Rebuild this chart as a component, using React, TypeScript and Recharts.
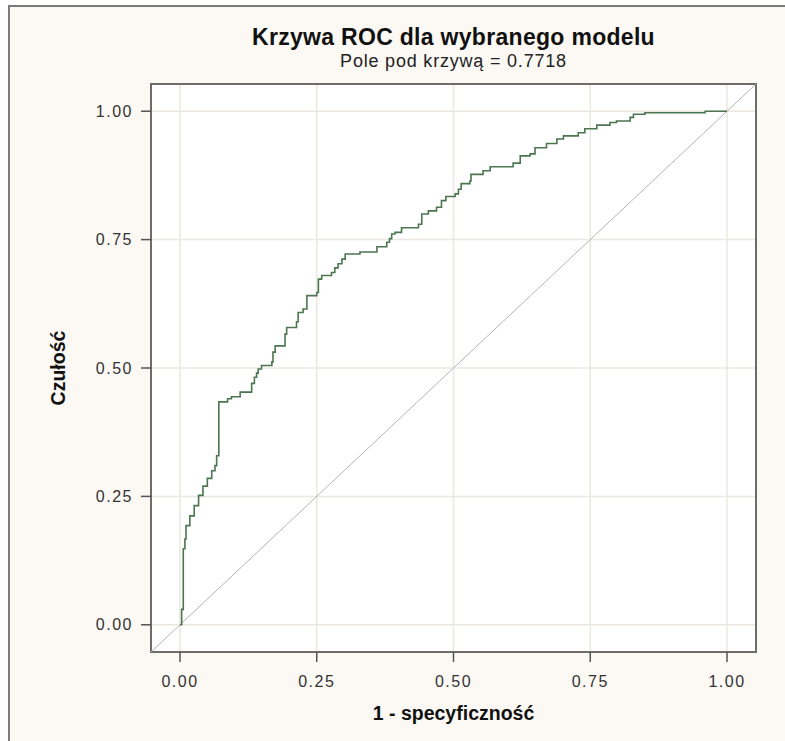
import {
  LineChart,
  Line,
  XAxis,
  YAxis,
  CartesianGrid,
  ReferenceLine,
  ReferenceArea,
} from 'recharts';

// points of the ROC curve (1 - specificity, sensitivity)
const FPR = [
  0, 0.003, 0.006, 0.009, 0.011, 0.018, 0.026, 0.034, 0.042, 0.05, 0.058,
  0.064, 0.067, 0.071, 0.087, 0.094, 0.11, 0.131, 0.136, 0.14, 0.143, 0.149,
  0.168, 0.17, 0.174, 0.192, 0.195, 0.213, 0.216, 0.225, 0.232, 0.25, 0.253,
  0.259, 0.277, 0.283, 0.289, 0.296, 0.302, 0.329, 0.36, 0.378, 0.383, 0.387,
  0.393, 0.405, 0.436, 0.442, 0.454, 0.469, 0.478, 0.486, 0.503, 0.509, 0.514,
  0.53, 0.532, 0.554, 0.567, 0.609, 0.622, 0.64, 0.649, 0.67, 0.689, 0.701,
  0.728, 0.74, 0.762, 0.786, 0.798, 0.823, 0.829, 0.85, 0.96, 1.0,
];
const TPR = [
  0, 0.03, 0.148, 0.167, 0.193, 0.212, 0.232, 0.252, 0.27, 0.285, 0.3,
  0.31, 0.329, 0.434, 0.44, 0.444, 0.453, 0.47, 0.482, 0.49, 0.498, 0.505,
  0.512, 0.531, 0.543, 0.566, 0.579, 0.59, 0.608, 0.615, 0.641, 0.647, 0.673,
  0.68, 0.686, 0.695, 0.703, 0.712, 0.722, 0.726, 0.736, 0.745, 0.752, 0.761,
  0.764, 0.773, 0.78, 0.8, 0.806, 0.813, 0.826, 0.834, 0.839, 0.848, 0.859,
  0.864, 0.877, 0.884, 0.892, 0.899, 0.913, 0.917, 0.929, 0.937, 0.946, 0.952,
  0.958, 0.966, 0.973, 0.978, 0.981, 0.988, 0.994, 0.997, 1.0, 1.0,
];
const TICKS = [0, 0.25, 0.5, 0.75, 1];
const LO = -0.053;
const HI = 1.053;

const FONT = '"Liberation Sans", Arial, sans-serif';

const data = FPR.map((x, i) => ({ fpr: x, tpr: TPR[i] }));

export default function App() {
  const fmt = (v: number) => v.toFixed(2);
  const tick = { fill: '#333', fontSize: 16, fontFamily: FONT, letterSpacing: 1.5 };
  return (
    <div
      style={{
        position: 'absolute',
        left: 0,
        top: 0,
        width: 785,
        height: 741,
        overflow: 'hidden',
        background: '#fff',
        fontFamily: FONT,
      }}
    >
      <div
        style={{
          position: 'absolute',
          left: 8,
          top: 5,
          width: 790,
          height: 745,
          boxSizing: 'border-box',
          borderLeft: '2px solid #7a7a7a',
          borderTop: '2px solid #7a7a7a',
          background: '#fcf9f4',
        }}
      />
      <div
        style={{
          position: 'absolute',
          left: 151,
          width: 605,
          top: 24,
          textAlign: 'center',
          fontSize: 23,
          letterSpacing: 0.3,
          fontWeight: 'bold',
          color: '#111',
        }}
      >
        Krzywa ROC dla wybranego modelu
      </div>
      <div
        style={{
          position: 'absolute',
          left: 151,
          width: 605,
          top: 51,
          textAlign: 'center',
          fontSize: 18,
          letterSpacing: 0.8,
          color: '#222',
        }}
      >
        Pole pod krzywą = 0.7718
      </div>
      <LineChart
        width={785}
        height={741}
        data={data}
        margin={{ top: 84, right: 29, bottom: 49, left: 91 }}
        style={{ position: 'absolute', left: 0, top: 0 }}
      >
        <CartesianGrid stroke="#ece8e0" strokeWidth={1.5} fill="#fff" />
        <XAxis
          type="number"
          dataKey="fpr"
          domain={[LO, HI]}
          ticks={TICKS}
          tickFormatter={fmt}
          allowDataOverflow
          axisLine={false}
          tickLine={{ stroke: '#555', strokeWidth: 1.5 }}
          tickSize={10}
          tickMargin={14}
          tick={tick}
          height={40}
        />
        <YAxis
          type="number"
          domain={[LO, HI]}
          ticks={TICKS}
          tickFormatter={fmt}
          allowDataOverflow
          axisLine={false}
          tickLine={{ stroke: '#555', strokeWidth: 1.5 }}
          tickSize={10}
          tickMargin={8}
          tick={tick}
          width={60}
        />
        <ReferenceLine
          segment={[
            { x: LO, y: LO },
            { x: HI, y: HI },
          ]}
          stroke="#b4b4b4"
          strokeWidth={1}
        />
        <ReferenceArea
          x1={LO}
          x2={HI}
          y1={LO}
          y2={HI}
          fill="none"
          stroke="#6c6c6c"
          strokeWidth={2}
        />
        <Line
          type="stepAfter"
          dataKey="tpr"
          stroke="#4b7650"
          strokeWidth={1.6}
          dot={false}
          isAnimationActive={false}
        />
      </LineChart>
      <div
        style={{
          position: 'absolute',
          left: 151,
          width: 605,
          top: 702,
          textAlign: 'center',
          fontSize: 19.5,
          fontWeight: 'bold',
          color: '#111',
        }}
      >
        1 - specyficzność
      </div>
      <div
        style={{
          position: 'absolute',
          left: 58,
          top: 368,
          transform: 'translate(-50%, -50%) rotate(-90deg)',
          fontSize: 19.5,
          fontWeight: 'bold',
          color: '#111',
          whiteSpace: 'nowrap',
        }}
      >
        Czułość
      </div>
    </div>
  );
}
